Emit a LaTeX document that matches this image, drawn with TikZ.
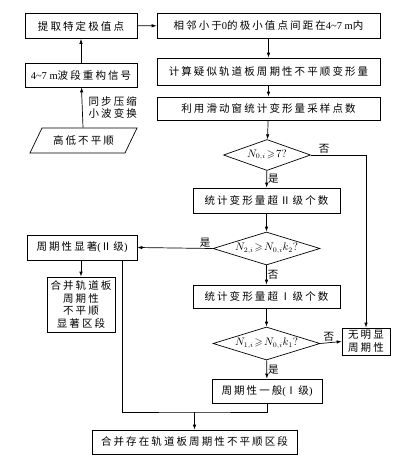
\documentclass[tikz,border=0pt]{standalone}
\usepackage{amssymb}
\usepackage{fontspec}
\setmainfont{Noto Sans CJK SC}[LetterSpace=20]
\newfontfamily\lat{Liberation Serif}
\usetikzlibrary{shapes.geometric,arrows.meta}

\begin{document}
\begin{tikzpicture}[x=1pt,y=-1pt,
    line width=0.7pt,
    >={Latex[length=5pt,width=3.5pt]},
    box/.style={draw, inner sep=0pt, minimum height=25pt, align=center,
        font=\fontsize{10.5}{12.5}\selectfont},
    test/.style={draw, diamond, aspect=3.4, inner sep=0pt, minimum width=107pt, minimum height=33pt,
        font=\fontsize{10.5}{12.5}\selectfont},
    lab/.style={inner sep=1pt, font=\fontsize{10.5}{12.5}\selectfont}]
    \useasboundingbox (0,0) rectangle (414,466);

    % Left column: signal preparation
    \node[box, minimum width=112pt] (extract) at (81,26) {提取特定极值点};
    \node[box, minimum width=112pt, minimum height=24pt] (recon) at (81,75)
        {{\lat 4\textasciitilde 7 m}波段重构信号};
    \node[inner sep=0pt, minimum width=95pt, minimum height=25pt,
        font=\fontsize{10.5}{12.5}\selectfont] (input) at (83.5,140.5) {高低不平顺};
    \draw ([shift={(-53.5,12.5)}]input.center) -- ([shift={(41.5,12.5)}]input.center)
        -- ([shift={(53.5,-12.5)}]input.center) -- ([shift={(-41.5,-12.5)}]input.center) -- cycle;

    % Right column: deformation statistics
    \node[box, minimum width=223pt] (adjacent) at (268.5,25.5)
        {相邻小于{\lat 0}的极小值点间距在{\lat 4\textasciitilde 7 m}内};
    \node[box, minimum width=223pt, minimum height=27pt] (calc) at (268.5,71.5)
        {计算疑似轨道板周期性不平顺变形量};
    \node[box, minimum width=223pt, minimum height=23pt] (window) at (268.5,108.5)
        {利用滑动窗统计变形量采样点数};

    % Decisions
    \node[test, minimum width=87pt, minimum height=31pt] (d0) at (267,155) {$N_{0,i}\!\geqslant\! 7?$};
    \node[box, minimum width=147pt] (count2) at (266.5,200.5) {统计变形量超Ⅱ级个数};
    \node[test] (d2) at (266.5,248.5) {$N_{2,i}\!\geqslant\! N_{0,i}k_2?$};
    \node[box, minimum width=147pt, minimum height=23pt] (count1) at (266.5,296.5) {统计变形量超Ⅰ级个数};
    \node[test] (d1) at (266.5,343.5) {$N_{1,i}\!\geqslant\! N_{0,i}k_1?$};

    % Results
    \node[box, minimum width=110pt] (sig2) at (82,247.5) {周期性显著{\lat (}Ⅱ级{\lat )}};
    \node[box, minimum width=68pt, minimum height=55pt] (merge2) at (81,304.5)
        {合并轨道板\\周期性\\不平顺\\显著区段};
    \node[box, minimum width=48pt, minimum height=27pt] (none) at (366,341.5) {无明显\\周期性};
    \node[box, minimum width=110pt, minimum height=24pt] (gen1) at (267,391) {周期性一般{\lat (}Ⅰ级{\lat )}};
    \node[box, minimum width=205pt, minimum height=24pt] (final) at (194.5,442)
        {合并存在轨道板周期性不平顺区段};

    % Connections
    \draw[->] (input) -- (recon) node[lab, pos=0.5, anchor=west, align=left, xshift=5pt] {同步压缩\\小波变换};
    \draw[->] (recon) -- (extract);
    \draw[->] (extract) -- (adjacent);
    \draw[->] (adjacent) -- (calc);
    \draw[->] (calc) -- (window);
    \draw[->] (window) -- (d0);
    \draw[->] (d0) -- (count2) node[lab, midway, right] {是};
    \draw[->] (d0.east) -| (none.north) node[lab, pos=0.12, above] {否};
    \draw[->] (count2) -- (d2);
    \draw[->] (d2.west) -- (sig2.east) node[lab, pos=0.1, above] {是};
    \draw[->] (d2) -- (count1) node[lab, midway, right] {否};
    \draw[->] (count1) -- (d1);
    \draw[->] (d1.east) -- (none.west) node[lab, pos=0.4, above] {否};
    \draw[->] (d1) -- (gen1) node[lab, midway, right] {是};
    \draw[->] (sig2.south -| merge2) -- (merge2.north);

    % Joining both outcomes
    \coordinate (join) at (194.5,412);
    \draw (sig2.south -| 122,0) |- (join) -| (gen1.south);
    \draw[->] (join) -- (final);
\end{tikzpicture}
\end{document}
